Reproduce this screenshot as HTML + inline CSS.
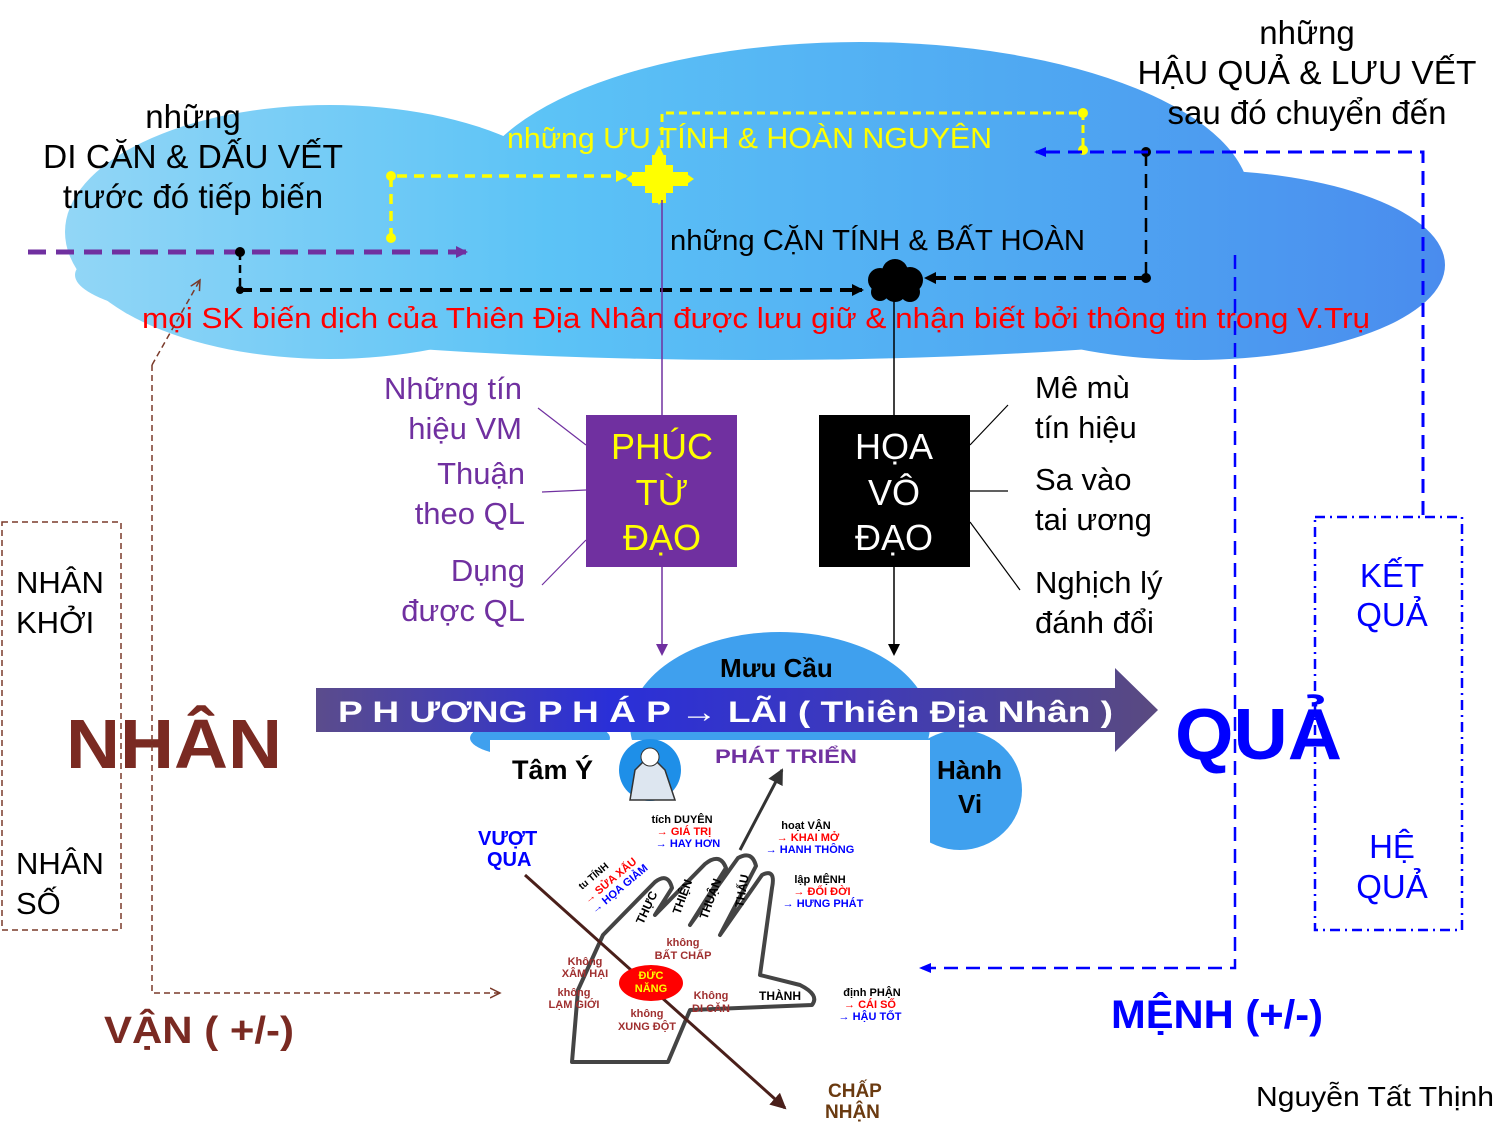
<!DOCTYPE html>
<html><head><meta charset="utf-8"><style>
html,body{margin:0;padding:0;background:#fff}
svg{display:block}
text{font-family:"Liberation Sans",sans-serif}
</style></head><body>
<svg width="1507" height="1136" viewBox="0 0 1507 1136" xmlns="http://www.w3.org/2000/svg">
<defs>
<linearGradient id="cl" gradientUnits="userSpaceOnUse" x1="65" y1="0" x2="1445" y2="0">
<stop offset="0" stop-color="#92d6f6"/><stop offset="0.35" stop-color="#5cc3f6"/><stop offset="0.7" stop-color="#4fa8f2"/><stop offset="1" stop-color="#4a8cee"/></linearGradient>
<linearGradient id="ar" x1="0" y1="0" x2="1" y2="0">
<stop offset="0" stop-color="#5b4c8c"/><stop offset="0.35" stop-color="#2a2fd8"/><stop offset="0.6" stop-color="#3a38c0"/><stop offset="1" stop-color="#5a4a80"/></linearGradient>
<marker id="mb" markerUnits="userSpaceOnUse" markerWidth="12" markerHeight="12" refX="10" refY="6" orient="auto"><path d="M0,0L12,6L0,12z" fill="#000"/></marker>
<marker id="mp" markerUnits="userSpaceOnUse" markerWidth="12" markerHeight="12" refX="10" refY="6" orient="auto"><path d="M0,0L12,6L0,12z" fill="#7030a0"/></marker>
<marker id="mbl" markerUnits="userSpaceOnUse" markerWidth="12" markerHeight="12" refX="10" refY="6" orient="auto"><path d="M0,1L12,6L0,11z" fill="#00f"/></marker>
<marker id="my" markerUnits="userSpaceOnUse" markerWidth="12" markerHeight="12" refX="10" refY="6" orient="auto"><path d="M0,0L12,6L0,12z" fill="#ff0"/></marker>
<marker id="mdk" markerUnits="userSpaceOnUse" markerWidth="16" markerHeight="16" refX="14" refY="8" orient="auto"><path d="M0,0L16,8L0,16z" fill="#4a1f1a"/></marker>
<marker id="mg" markerUnits="userSpaceOnUse" markerWidth="16" markerHeight="16" refX="14" refY="8" orient="auto"><path d="M0,0L16,8L0,16z" fill="#333"/></marker>
<marker id="mbr" markerUnits="userSpaceOnUse" markerWidth="12" markerHeight="12" refX="10" refY="6" orient="auto"><path d="M0,1L10,6L0,11" fill="none" stroke="#7a3a2a" stroke-width="1.5"/></marker>
</defs>
<!-- top cloud -->
<g fill="url(#cl)">
<ellipse cx="755" cy="275" rx="680" ry="85"/>
<ellipse cx="330" cy="232" rx="265" ry="127"/>
<ellipse cx="860" cy="200" rx="390" ry="158"/>
<ellipse cx="1195" cy="265" rx="250" ry="95"/>
</g>
<!-- lower cloud -->
<g fill="#3fa0ee">
<ellipse cx="780" cy="725" rx="150" ry="93"/>
<ellipse cx="960" cy="790" rx="62" ry="60"/>
<ellipse cx="540" cy="738" rx="70" ry="20"/>
</g>
<rect x="490" y="740" width="440" height="390" fill="#fff"/>
<!-- arrow band -->
<path d="M316,688 L1115,688 L1115,668 L1158,710 L1115,752 L1115,732 L316,732 Z" fill="url(#ar)"/>
<text x="338" y="722" font-size="30" font-weight="bold" fill="#fff" textLength="775" lengthAdjust="spacingAndGlyphs">P  H  ƯƠNG   P H Á P  → LÃI  ( Thiên Địa Nhân )</text>
<text x="720" y="677" font-size="26" font-weight="bold" fill="#000">Mưu  Cầu</text>
<text x="937" y="779" font-size="26" font-weight="bold" fill="#000">Hành</text>
<text x="958" y="813" font-size="26" font-weight="bold" fill="#000">Vi</text>
<!-- top texts -->
<g font-size="33" fill="#000" text-anchor="middle">
<text x="193" y="128">những</text><text x="193" y="168" textLength="300" lengthAdjust="spacingAndGlyphs">DI CĂN &amp; DẤU VẾT</text><text x="193" y="208">trước đó tiếp biến</text>
<text x="1307" y="44">những</text><text x="1307" y="84" textLength="339" lengthAdjust="spacingAndGlyphs">HẬU QUẢ &amp; LƯU VẾT</text><text x="1307" y="124">sau đó chuyển đến</text>
</g>
<text x="507" y="148" font-size="29" fill="#ff0" textLength="485" lengthAdjust="spacingAndGlyphs">những ƯU  TÍNH &amp; HOÀN NGUYÊN</text>
<text x="670" y="250" font-size="29" fill="#000" textLength="415" lengthAdjust="spacingAndGlyphs">những CẶN TÍNH &amp; BẤT HOÀN</text>
<text x="142" y="328" font-size="29" fill="#f00" textLength="1228" lengthAdjust="spacingAndGlyphs">mọi SK biến dịch của Thiên Địa Nhân được lưu giữ &amp; nhận biết bởi thông tin trong V.Trụ</text>
<!-- connectors in cloud -->
<line x1="28" y1="252" x2="466" y2="252" stroke="#7030a0" stroke-width="5" stroke-dasharray="18,10" marker-end="url(#mp)"/>
<line x1="240" y1="252" x2="240" y2="290" stroke="#000" stroke-width="2.5" stroke-dasharray="8,5"/>
<circle cx="240" cy="252" r="5" fill="#000"/><circle cx="240" cy="290" r="4" fill="#000"/>
<line x1="240" y1="290" x2="862" y2="290" stroke="#000" stroke-width="4" stroke-dasharray="12,8" marker-end="url(#mb)"/>
<path d="M391,238 L391,176 L626,176" fill="none" stroke="#ff0" stroke-width="3.5" stroke-dasharray="10,7" marker-end="url(#my)"/>
<circle cx="391" cy="176" r="5" fill="#ff0"/><circle cx="391" cy="238" r="5" fill="#ff0"/>
<path d="M662,148 L662,113 L1083,113 L1083,150" fill="none" stroke="#ff0" stroke-width="3" stroke-dasharray="8,5"/>
<circle cx="1083" cy="113" r="5" fill="#ff0"/><circle cx="1083" cy="150" r="5" fill="#ff0"/>
<!-- yellow cross -->
<g fill="#ff0"><rect x="645" y="165" width="28" height="28"/><rect x="652" y="155" width="14" height="48"/><rect x="632" y="172" width="56" height="14"/>
<path d="M659,145 L665,158 L653,158Z"/><path d="M659,205 L665,195 L653,195Z"/><path d="M626,179 L636,172 L636,186Z"/><path d="M694,179 L684,172 L684,186Z"/></g>
<!-- black blob -->
<g fill="#000"><circle cx="880" cy="280" r="12"/><circle cx="895" cy="272" r="13"/><circle cx="910" cy="280" r="13"/><circle cx="895" cy="290" r="12"/><circle cx="880" cy="292" r="9"/><circle cx="910" cy="292" r="10"/></g>
<line x1="1146" y1="278" x2="926" y2="278" stroke="#000" stroke-width="4" stroke-dasharray="12,8" marker-end="url(#mb)"/>
<line x1="1146" y1="152" x2="1146" y2="278" stroke="#000" stroke-width="2.5" stroke-dasharray="14,8"/>
<circle cx="1146" cy="152" r="5" fill="#000"/><circle cx="1146" cy="278" r="5" fill="#000"/>
<path d="M1423,515 L1423,152 L1036,152" fill="none" stroke="#00f" stroke-width="3" stroke-dasharray="14,8" marker-end="url(#mbl)"/>
<!-- vertical lines -->
<line x1="662" y1="200" x2="662" y2="415" stroke="#7030a0" stroke-width="1.5"/>
<line x1="662" y1="567" x2="662" y2="654" stroke="#7030a0" stroke-width="1.5" marker-end="url(#mp)"/>
<line x1="894" y1="300" x2="894" y2="415" stroke="#000" stroke-width="1.5"/>
<line x1="894" y1="567" x2="894" y2="654" stroke="#000" stroke-width="1.5" marker-end="url(#mb)"/>
<!-- boxes -->
<rect x="586" y="415" width="151" height="152" fill="#7030a0"/>
<g font-size="36" fill="#ff0" text-anchor="middle"><text x="662" y="459">PHÚC</text><text x="662" y="505">TỪ</text><text x="662" y="550">ĐẠO</text></g>
<rect x="819" y="415" width="151" height="152" fill="#000"/>
<g font-size="36" fill="#fff" text-anchor="middle"><text x="894" y="459">HỌA</text><text x="894" y="505">VÔ</text><text x="894" y="550">ĐẠO</text></g>
<g font-size="31" fill="#7030a0" text-anchor="end">
<text x="522" y="399">Những tín</text><text x="522" y="439">hiệu VM</text><text x="525" y="484">Thuận</text><text x="525" y="524">theo  QL</text><text x="525" y="581">Dụng</text><text x="525" y="621">được  QL</text></g>
<g stroke="#7030a0" stroke-width="1.2"><line x1="538" y1="408" x2="586" y2="445"/><line x1="542" y1="492" x2="586" y2="490"/><line x1="542" y1="585" x2="586" y2="540"/></g>
<g font-size="31" fill="#000"><text x="1035" y="398">Mê  mù</text><text x="1035" y="438">tín hiệu</text><text x="1035" y="490">Sa vào</text><text x="1035" y="530">tai ương</text><text x="1035" y="593">Nghịch lý</text><text x="1035" y="633">đánh đổi</text></g>
<g stroke="#000" stroke-width="1.2"><line x1="1008" y1="405" x2="970" y2="445"/><line x1="1008" y1="491" x2="970" y2="491"/><line x1="1020" y1="590" x2="970" y2="522"/></g>
<!-- left box -->
<rect x="2" y="522" width="119" height="408" fill="none" stroke="#7a3a2a" stroke-width="1.5" stroke-dasharray="6,4"/>
<g font-size="31" fill="#000"><text x="16" y="593">NHÂN</text><text x="16" y="633">KHỞI</text><text x="16" y="874">NHÂN</text><text x="16" y="914">SỐ</text></g>
<text x="66" y="768" font-size="70" font-weight="bold" fill="#7a2a22" textLength="216" lengthAdjust="spacingAndGlyphs">NHÂN</text>
<text x="104" y="1043" font-size="38" font-weight="bold" fill="#7a2a22" textLength="190" lengthAdjust="spacingAndGlyphs">VẬN ( +/-)</text>
<path d="M152,365 L152,993 L500,993" fill="none" stroke="#7a3a2a" stroke-width="1.5" stroke-dasharray="6,4" marker-end="url(#mbr)"/>
<line x1="152" y1="365" x2="200" y2="280" stroke="#7a3a2a" stroke-width="1.5" stroke-dasharray="6,4" marker-end="url(#mbr)"/>
<!-- right -->
<rect x="1315" y="517" width="147" height="413" fill="none" stroke="#00f" stroke-width="2.5" stroke-dasharray="10,5,2,5"/>
<g font-size="33" fill="#00f" text-anchor="middle"><text x="1392" y="587">KẾT</text><text x="1392" y="626">QUẢ</text><text x="1392" y="858">HỆ</text><text x="1392" y="898">QUẢ</text></g>
<text x="1175" y="759" font-size="72" font-weight="bold" fill="#00f" textLength="167" lengthAdjust="spacingAndGlyphs">QUẢ</text>
<text x="1111" y="1028" font-size="40" font-weight="bold" fill="#00f" textLength="212" lengthAdjust="spacingAndGlyphs">MỆNH (+/-)</text>
<path d="M1235,255 L1235,968 L921,968" fill="none" stroke="#00f" stroke-width="2.5" stroke-dasharray="14,8" marker-end="url(#mbl)"/>
<text x="1256" y="1106" font-size="28" fill="#000" textLength="238" lengthAdjust="spacingAndGlyphs">Nguyễn  Tất Thịnh</text>
<!-- hand area -->
<text x="512" y="779" font-size="27" font-weight="bold" fill="#000">Tâm Ý</text>
<circle cx="650" cy="770" r="31" fill="#1e8fe8"/>
<path d="M630,800 L635,770 L650,755 L665,770 L675,800 Z" fill="#dde6f0" stroke="#333" stroke-width="1.5"/>
<circle cx="650" cy="757" r="9" fill="#fff" stroke="#333"/>
<text x="715" y="763" font-size="19" font-weight="bold" fill="#7030a0" textLength="142" lengthAdjust="spacingAndGlyphs">PHÁT  TRIỂN</text>
<text x="478" y="845" font-size="20" font-weight="bold" fill="#00f">VƯỢT</text>
<text x="487" y="866" font-size="20" font-weight="bold" fill="#00f">QUA</text>
<text x="828" y="1097" font-size="19" font-weight="bold" fill="#6a3a10">CHẤP</text>
<text x="825" y="1118" font-size="19" font-weight="bold" fill="#6a3a10">NHẬN</text>
<path d="M572,1062 L578,990 L603,935 L655,882 Q668,872 672,888 L655,915 L705,864 Q720,852 726,868 L690,925 L738,858 Q752,850 756,866 L720,935 L762,875 Q776,868 772,888 L760,975 L800,985 Q820,995 812,1005 L690,1010 L668,1062 Z" fill="none" stroke="#444" stroke-width="4" stroke-linejoin="round"/>
<line x1="525" y1="875" x2="785" y2="1108" stroke="#4a1f1a" stroke-width="3" marker-end="url(#mdk)"/>
<line x1="740" y1="850" x2="782" y2="770" stroke="#333" stroke-width="3" marker-end="url(#mg)"/>
<ellipse cx="651" cy="983" rx="32" ry="18" fill="#f00"/>
<g font-size="11" font-weight="bold" text-anchor="middle">
<text x="651" y="979" fill="#ff0">ĐỨC</text><text x="651" y="992" fill="#ff0">NĂNG</text>
<text x="682" y="823" fill="#000">tích DUYÊN</text><text x="684" y="835" fill="#f00">→ GIÁ  TRỊ</text><text x="688" y="847" fill="#00f">→ HAY HƠN</text>
<text x="806" y="829" fill="#000">hoạt  VẬN</text><text x="808" y="841" fill="#f00">→ KHAI  MỞ</text><text x="810" y="853" fill="#00f">→ HANH THÔNG</text>
<text x="820" y="883" fill="#000">lập  MỆNH</text><text x="822" y="895" fill="#f00">→ ĐỔI ĐỜI</text><text x="823" y="907" fill="#00f">→ HƯNG  PHÁT</text>
<text x="872" y="996" fill="#000">định PHẬN</text><text x="870" y="1008" fill="#f00">→ CÁI  SỐ</text><text x="870" y="1020" fill="#00f">→ HẬU TỐT</text>
<text x="683" y="946" fill="#a03030">không</text><text x="683" y="959" fill="#a03030">BẤT  CHẤP</text>
<text x="585" y="965" fill="#a03030">Không</text><text x="585" y="977" fill="#a03030">XÂM  HẠI</text>
<text x="574" y="996" fill="#a03030">không</text><text x="574" y="1008" fill="#a03030">LẠM  GIỚI</text>
<text x="711" y="999" fill="#a03030">Không</text><text x="711" y="1012" fill="#a03030">DI  CĂN</text>
<text x="647" y="1017" fill="#a03030">không</text><text x="647" y="1030" fill="#a03030">XUNG  ĐỘT</text>
<text x="780" y="1000" fill="#000" font-size="12">THÀNH</text>
</g>
<g font-size="12" font-weight="bold">
<text transform="translate(643,925) rotate(-65)">THỰC</text>
<text transform="translate(680,915) rotate(-70)">THIỆN</text>
<text transform="translate(707,920) rotate(-70)">THUẬN</text>
<text transform="translate(743,908) rotate(-80)">THẤU</text>
<text transform="translate(582,890) rotate(-40)" font-size="10">tu TÍNH</text>
<text transform="translate(588,904) rotate(-40)" fill="#f00" font-size="11">→ SỬA  XẤU</text>
<text transform="translate(595,914) rotate(-40)" fill="#00f" font-size="11">→ HỌA GIẢM</text>
</g>
</svg>
</body></html>
